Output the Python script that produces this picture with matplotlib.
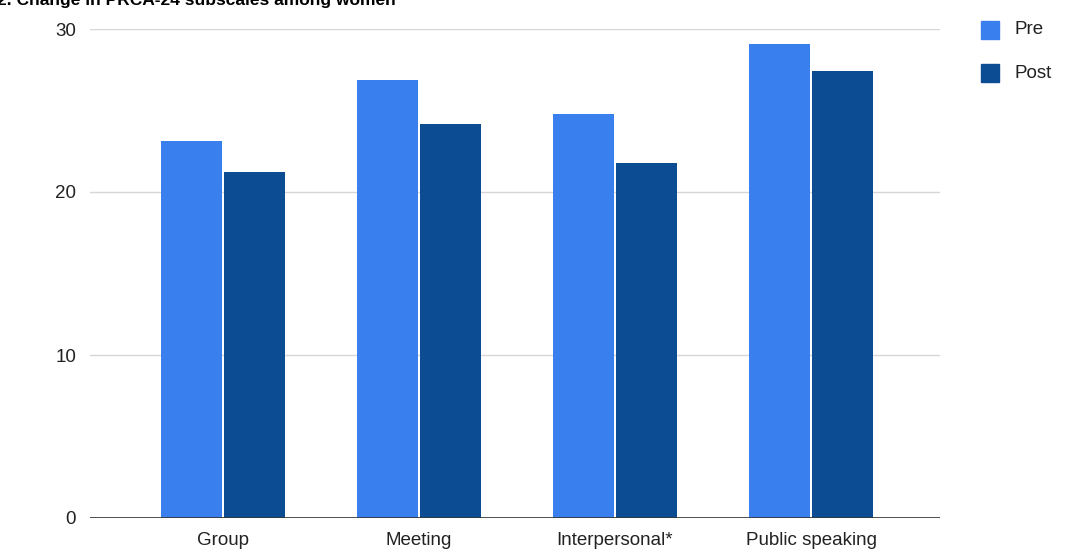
import matplotlib.pyplot as plt
import numpy as np

categories = ['Group', 'Meeting', 'Interpersonal*', 'Public speaking']
pre = [23.1, 26.9, 24.8, 29.1]
post = [21.2, 24.2, 21.8, 27.4]
series = ['Pre', 'Post']
colors = ['#3a7fee', '#0c4c93']
title = '2. Change in PRCA-24 subscales among women'

fig = plt.figure(figsize=(10.77, 5.52), dpi=100)
ax = fig.add_axes([90/1077, 1-518/552, 850/1077, 489/552])

x = np.arange(len(categories))
w = 0.311
ax.bar(x - 0.161, pre, w, color=colors[0], zorder=3)
ax.bar(x + 0.161, post, w, color=colors[1], zorder=3)

ax.set_xlim(-0.679, 3.658)
ax.set_ylim(0, 30)
ax.set_yticks([0, 10, 20, 30])
ax.grid(axis='y', color='#d6d6d6', lw=1, zorder=0)
ax.axhline(0, color='#333333', lw=1.2, zorder=4)
for s in ax.spines.values():
    s.set_visible(False)
ax.tick_params(length=0, labelsize=13.5, colors='#222222')
ax.tick_params(axis='y', pad=10)
ax.tick_params(axis='x', pad=10)
ax.set_xticks(x)
ax.set_xticklabels(categories, family='Liberation Sans')
for t in ax.get_yticklabels():
    t.set_family('Liberation Sans')

# legend drawn by hand at top right
for i, (name, c) in enumerate(zip(series, colors)):
    yy = 1 - (30 + 43*i)/552
    fig.patches.append(plt.Rectangle((981/1077, yy - 9/552), 18/1077, 18/552,
                                     transform=fig.transFigure, color=c))
    fig.text(1015/1077, yy, name, fontsize=13.5, family='Liberation Sans',
             va='center', ha='left', color='#222222')

fig.text(-0.003, 1.0, title, fontsize=12.5, fontweight='bold',
         family=['Liberation Sans Narrow', 'Liberation Sans'], va='center', ha='left')

fig.savefig('out.png', dpi=100)
